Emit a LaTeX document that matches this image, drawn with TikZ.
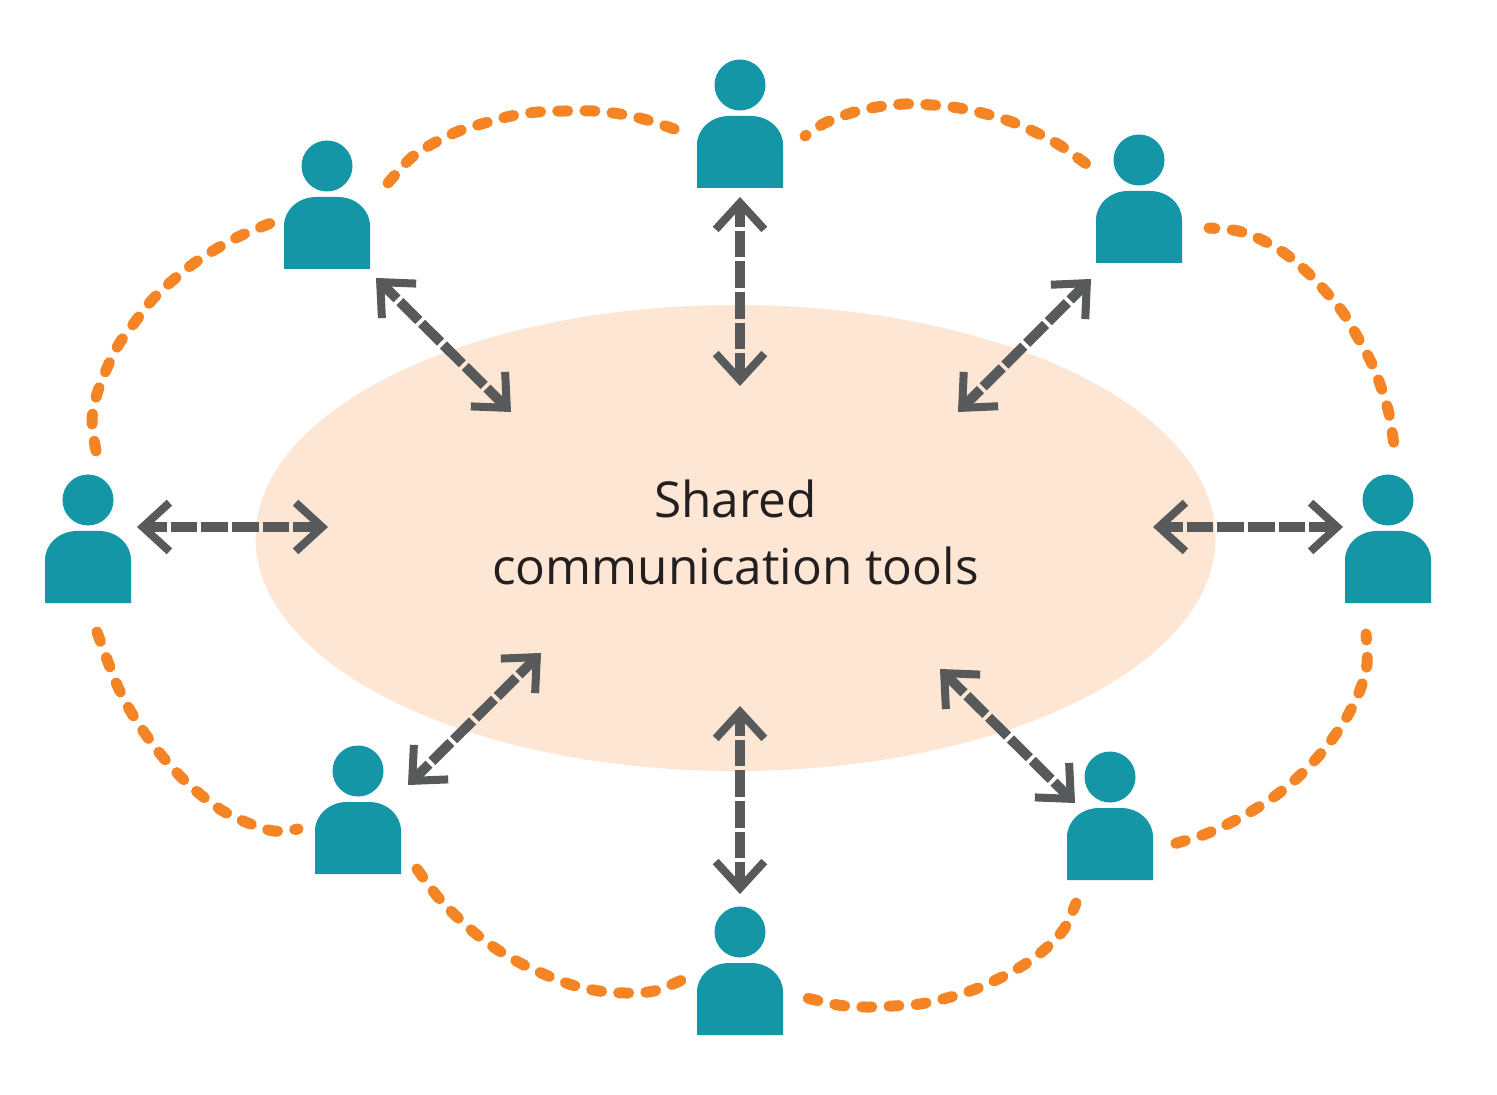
\documentclass[tikz,border=0pt]{standalone}
\usepackage{fontspec}
\setmainfont{Open Sans}
\usetikzlibrary{calc,shapes.geometric}
\definecolor{teal1}{HTML}{1496A6}
\definecolor{gray1}{HTML}{58595B}
\definecolor{orange1}{HTML}{F58524}
\definecolor{peach}{HTML}{FDE6D3}
\definecolor{ink}{HTML}{231F20}
\tikzset{
  x=0.5pt,y=-0.5pt,
  headshape/.style={circle,fill=teal1,inner sep=0pt,minimum size=25.5pt},
  shaft/.style={draw=gray1,line width=5pt,dash pattern=on 13.35pt off 2pt,dash phase=1.5pt},
  barb/.style={draw=gray1,line width=4pt,miter limit=10,line join=miter,line cap=butt},
  link/.style={draw=orange1,line width=5.5pt,line cap=round,dash pattern=on 5pt off 8.6pt},
}
\newcommand{\personfig}[3]{% name, head centre x, y
  \node[headshape] (#1head) at (#2,#3) {};
  \fill[teal1] ($(#2,#3)+(-43,103)$) -- ++(0,-43) arc[x radius=16pt,y radius=14.5pt,start angle=180,end angle=90]
     -- ++(22,0) arc[x radius=16pt,y radius=14.5pt,start angle=90,end angle=0] -- ++(0,43) -- cycle;
}
\newcommand{\dblarrow}[5]{% name, x1,y1,x2,y2
  \coordinate (#1a) at (#2,#3);
  \coordinate (#1b) at (#4,#5);
  \coordinate (#1aa) at ($(#1a)!2.95pt!(#1b)$);
  \coordinate (#1bb) at ($(#1b)!2.95pt!(#1a)$);
  \path[shaft] (#1aa) -- (#1bb);
  \path[barb] ($(#1aa)!18pt!42.5:(#1bb)$) -- (#1aa) -- ($(#1aa)!18pt!-42.5:(#1bb)$);
  \path[barb] ($(#1bb)!18pt!42.5:(#1aa)$) -- (#1bb) -- ($(#1bb)!18pt!-42.5:(#1aa)$);
}
\newcommand{\linkarc}[2][0pt]{%
  \path[link,dash phase=#1] plot[smooth,tension=0.55] coordinates {#2};
}
\begin{document}
\begin{tikzpicture}
\useasboundingbox (0,0) rectangle (1497,1095);
\fill[white] (0,0) rectangle (1497,1095);
\node[fill=peach,ellipse,inner sep=0pt,minimum width=480pt,minimum height=233pt,outer sep=0pt] (tools) at (735.5,538) {};
\node[align=center,inner sep=0pt,font=\fontsize{24.75pt}{33.5pt}\selectfont,text=ink] (label) at (735.5,532.5) {Shared\\communication tools};
\personfig{top}{740}{85}
\personfig{tl}{327}{166}
\personfig{tr}{1139}{160}
\personfig{lf}{88}{500}
\personfig{rt}{1388}{500}
\personfig{bl}{358}{771}
\personfig{br}{1110}{777}
\personfig{bt}{740}{932}
\dblarrow{a1}{740}{197}{740}{386}
\dblarrow{a2}{740}{706}{740}{894}
\dblarrow{a3}{376}{278}{511}{412}
\dblarrow{a4}{1091}{279}{958}{412}
\dblarrow{a5}{408}{785}{541}{653}
\dblarrow{a6}{1075}{803}{940}{669}
\dblarrow{a7}{137}{527}{328}{527}
\dblarrow{a8}{1153}{527}{1343}{527}
\linkarc{(388,183) (411,158) (434,143) (459,131) (485,123) (511,116) (538,112) (566,111) (593,111) (620,114) (647,120) (680,131)}
\linkarc[4.3pt]{(805,136) (825,123) (851,113) (877,107) (905,104) (932,105) (959,108) (986,114) (1012,122) (1037,133) (1061,146) (1089,166)}
\linkarc[2pt]{(1209,228) (1238,231) (1264,241) (1287,255) (1308,273) (1327,293) (1344,314) (1358,338) (1371,362) (1381,387) (1389,414) (1394,445)}
\linkarc{(96,451) (92,421) (97,394) (107,368) (119,344) (135,322) (152,300) (172,281) (193,264) (216,249) (240,236) (271,223)}
\linkarc{(97,632) (108,662) (118,687) (131,712) (146,735) (162,756) (181,777) (201,795) (223,811) (248,823) (274,831) (298,829)}
\linkarc[2pt]{(1366,634) (1367,664) (1360,690) (1348,715) (1333,738) (1316,759) (1296,779) (1275,796) (1252,811) (1228,824) (1203,835) (1170,845)}
\linkarc[1pt]{(1076,903) (1064,929) (1044,950) (1022,966) (998,979) (973,990) (947,998) (920,1004) (893,1006) (865,1007) (838,1005) (803,997)}
\linkarc{(417,869) (437,896) (456,916) (476,934) (498,950) (522,964) (546,975) (572,985) (599,991) (626,993) (654,991) (682,980)}
\end{tikzpicture}
\end{document}
